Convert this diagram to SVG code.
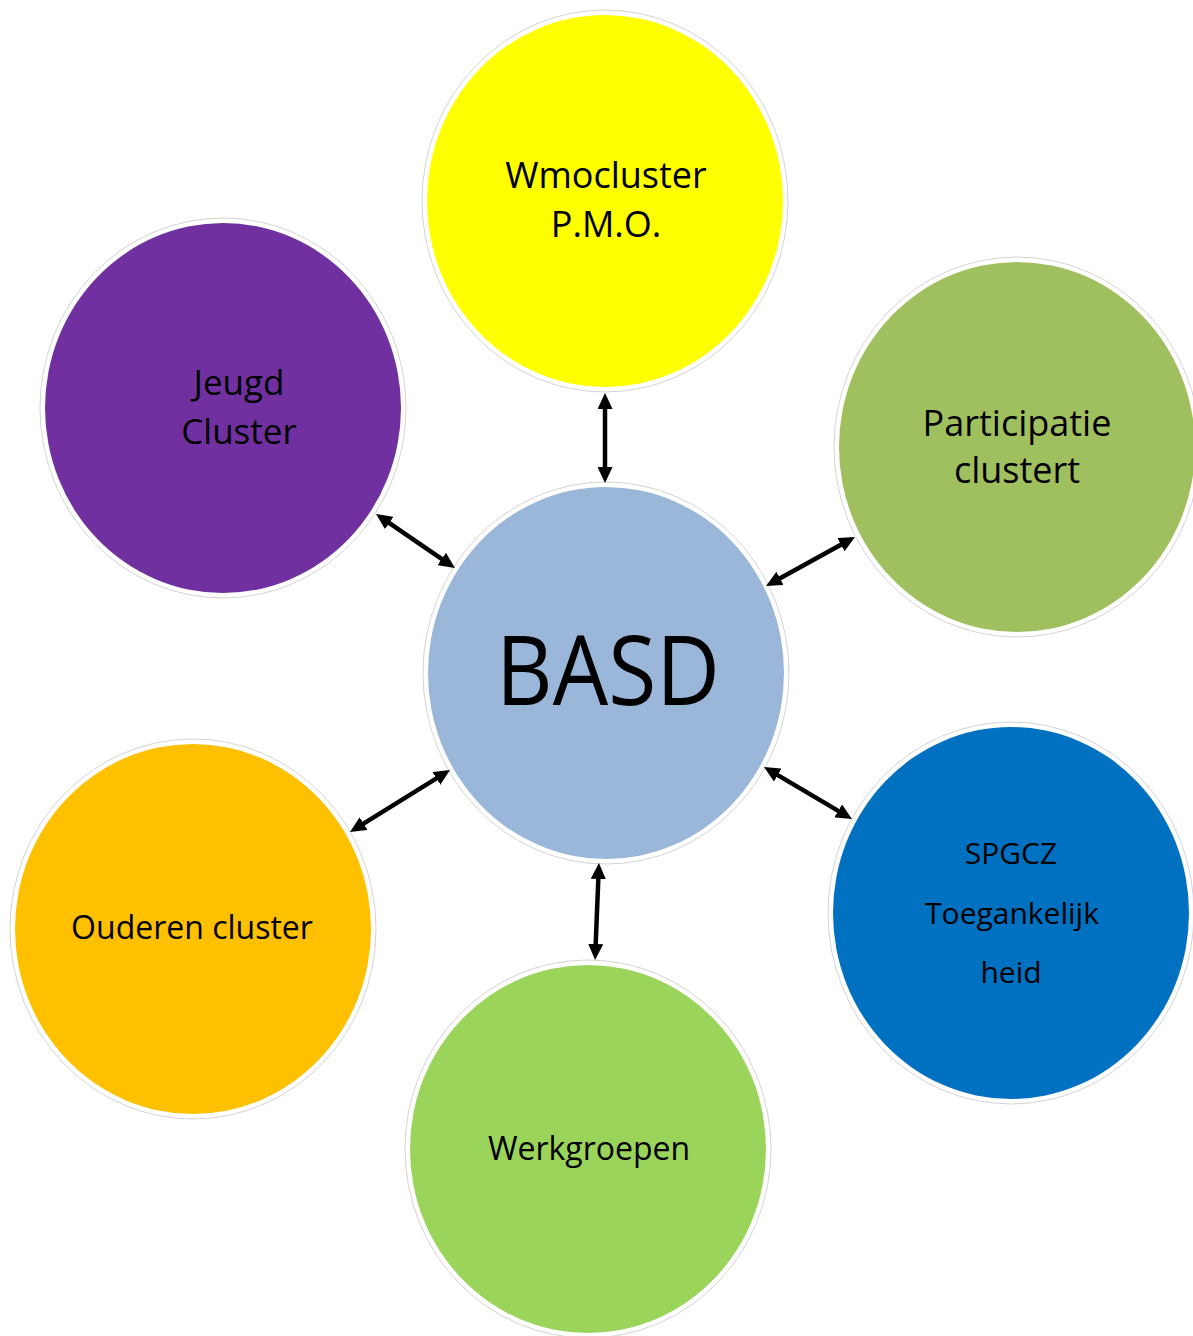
<svg xmlns="http://www.w3.org/2000/svg" width="1193" height="1336" viewBox="0 0 1193 1336">
<style>
.ring{fill:#ffffff;stroke:#d4d4d4;stroke-width:1}
.lbl{font-family:"Open Sans","Liberation Sans",sans-serif;fill:#000000;text-anchor:middle}
.conn{stroke:#000000;stroke-width:4.5;fill:none;marker-start:url(#ah);marker-end:url(#ah)}
</style>
<defs>
<marker id="ah" viewBox="0 0 16 15" refX="2" refY="7.5" markerWidth="16" markerHeight="15" markerUnits="userSpaceOnUse" orient="auto-start-reverse">
<path d="M0,0 L16,7.5 L0,15 z" fill="#000000"/>
</marker>
</defs>
<rect x="0" y="0" width="1193" height="1336" fill="#ffffff"/>

<g id="node-wmocluster">
<ellipse class="ring" cx="605" cy="201" rx="183" ry="191"/>
<ellipse cx="605" cy="201" rx="178" ry="186" fill="#ffff00"/>
<text class="lbl" x="606" y="188" font-size="36">Wmocluster</text>
<text class="lbl" x="606" y="237" font-size="36">P.M.O.</text>
</g>

<g id="node-jeugd">
<ellipse class="ring" cx="223" cy="408" rx="183" ry="190"/>
<ellipse cx="223" cy="408" rx="178" ry="185" fill="#7030a0"/>
<text class="lbl" x="239" y="395" font-size="35">Jeugd</text>
<text class="lbl" x="239" y="444" font-size="35">Cluster</text>
</g>

<g id="node-participatie">
<ellipse class="ring" cx="1017" cy="447" rx="183" ry="190"/>
<ellipse cx="1017" cy="447" rx="178" ry="185" fill="#a0bf5f"/>
<text class="lbl" x="1017" y="436" font-size="36">Participatie</text>
<text class="lbl" x="1017" y="483" font-size="36">clustert</text>
</g>

<g id="node-basd">
<ellipse class="ring" cx="606" cy="673" rx="183" ry="191"/>
<ellipse cx="606" cy="673" rx="178" ry="186" fill="#9ab6d9"/>
<text class="lbl" x="608" y="705" font-size="97" textLength="224" lengthAdjust="spacingAndGlyphs">BASD</text>
</g>

<g id="node-ouderen">
<ellipse class="ring" cx="193" cy="929" rx="183" ry="190"/>
<ellipse cx="193" cy="929" rx="178" ry="185" fill="#ffc000"/>
<text class="lbl" x="192" y="939" font-size="32">Ouderen cluster</text>
</g>

<g id="node-spgcz">
<ellipse class="ring" cx="1011" cy="913" rx="183" ry="191"/>
<ellipse cx="1011" cy="913" rx="178" ry="186" fill="#0070c0"/>
<text class="lbl" x="1011" y="864" font-size="30">SPGCZ</text>
<text class="lbl" x="1012" y="924" font-size="30">Toegankelijk</text>
<text class="lbl" x="1011" y="983" font-size="30">heid</text>
</g>

<g id="node-werkgroepen">
<ellipse class="ring" cx="588" cy="1149" rx="183" ry="189"/>
<ellipse cx="588" cy="1149" rx="178" ry="184" fill="#9ad45a"/>
<text class="lbl" x="589" y="1160" font-size="32">Werkgroepen</text>
</g>

<g id="connectors">
<line class="conn" x1="605" y1="407" x2="605" y2="469"/>
<line class="conn" x1="387.6" y1="521.9" x2="443.4" y2="560.1"/>
<line class="conn" x1="842.7" y1="543.75" x2="778.3" y2="579.25"/>
<line class="conn" x1="438.1" y1="777.4" x2="361.9" y2="824.6"/>
<line class="conn" x1="776.05" y1="774.1" x2="839.95" y2="811.9"/>
<line class="conn" x1="598.4" y1="877" x2="595.6" y2="946"/>
</g>
</svg>
